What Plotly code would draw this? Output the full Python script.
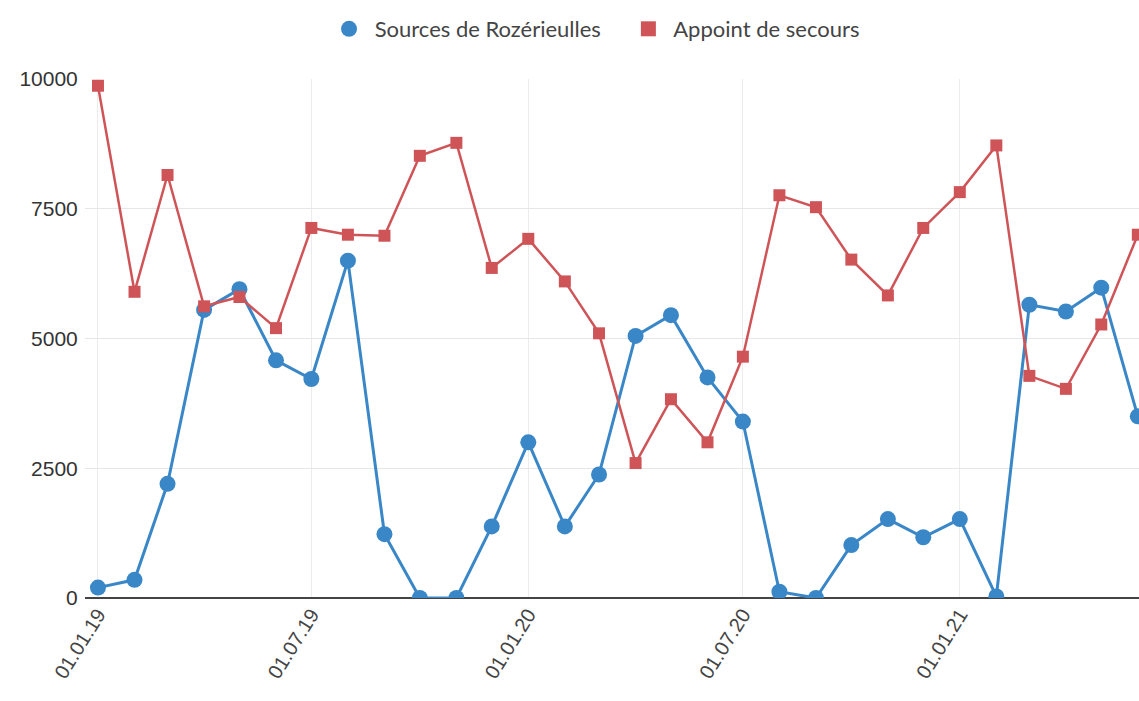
import plotly.graph_objects as go
import pandas as pd

dates = pd.date_range("2019-01-01", "2021-06-01", freq="MS")
sources = [200, 350, 2200, 5550, 5950, 4580, 4220, 6500, 1230, 0, 0, 1380,
           3000, 1380, 2380, 5050, 5450, 4250, 3400, 120, 0, 1020, 1520, 1170,
           1520, 30, 5650, 5520, 5980, 3500]
appoint = [9870, 5900, 8150, 5620, 5800, 5200, 7130, 7000, 6980, 8520, 8770, 6360,
           6920, 6100, 5100, 2600, 3830, 3000, 4650, 7760, 7530, 6520, 5830, 7130,
           7820, 8720, 4280, 4030, 5270, 7000]
tick_vals = ["2019-01-01", "2019-07-01", "2020-01-01", "2020-07-01", "2021-01-01"]
tick_text = ["01.01.19", "01.07.19", "01.01.20", "01.07.20", "01.01.21"]
y_ticks = [0, 2500, 5000, 7500, 10000]
y_text = ["0", "2500", "5000", "7500", "10000"]

blue = "#3a87c8"
red = "#cf5458"

fig = go.Figure()
fig.add_trace(go.Scatter(x=dates, y=sources, name="Sources de Rozérieulles",
                         mode="lines+markers", showlegend=False,
                         line=dict(color=blue, width=3),
                         marker=dict(color=blue, size=16, symbol="circle")))
fig.add_trace(go.Scatter(x=dates, y=appoint, name="Appoint de secours",
                         mode="lines+markers", showlegend=False,
                         line=dict(color=red, width=2.5),
                         marker=dict(color=red, size=12, symbol="square")))
# legend entries (markers only)
fig.add_trace(go.Scatter(x=[None], y=[None],
                         name="\u00a0Sources de Rozérieulles\u00a0\u00a0\u00a0\u00a0",
                         mode="markers", marker=dict(color=blue, size=20, symbol="circle")))
fig.add_trace(go.Scatter(x=[None], y=[None], name="\u00a0Appoint de secours",
                         mode="markers", marker=dict(color=red, size=15, symbol="square")))

fig.update_layout(
    width=1139, height=701,
    margin=dict(l=85, r=0, t=79, b=103),
    paper_bgcolor="white", plot_bgcolor="white",
    font=dict(family="Liberation Sans, Arial, sans-serif", color="#333333"),
    legend=dict(orientation="h", x=0.4858, xanchor="center", y=1 - 29 / 701, yanchor="middle",
                yref="container", font=dict(family="Lato, sans-serif", size=22, color="#444444"),
                itemwidth=30),
    showlegend=True,
)
fig.update_xaxes(range=["2018-12-21", "2021-06-02"], tickvals=tick_vals, ticktext=tick_text,
                 tickangle=-58, tickfont=dict(size=20, color="#444444"),
                 showgrid=True, gridcolor="#ececec", gridwidth=1,
                 showline=False, zeroline=False, ticks="")
fig.update_yaxes(range=[0, 10000], tickvals=y_ticks, ticktext=y_text,
                 tickfont=dict(size=21, color="#333333"),
                 showgrid=True, gridcolor="#e6e6e6", gridwidth=1,
                 zeroline=True, zerolinecolor="#444444", zerolinewidth=2,
                 ticks="outside", ticklen=2, tickcolor="white")

fig.write_html("out.html", config={"displayModeBar": False},
               post_script="document.body.style.margin='0';document.body.style.overflow='hidden';")
